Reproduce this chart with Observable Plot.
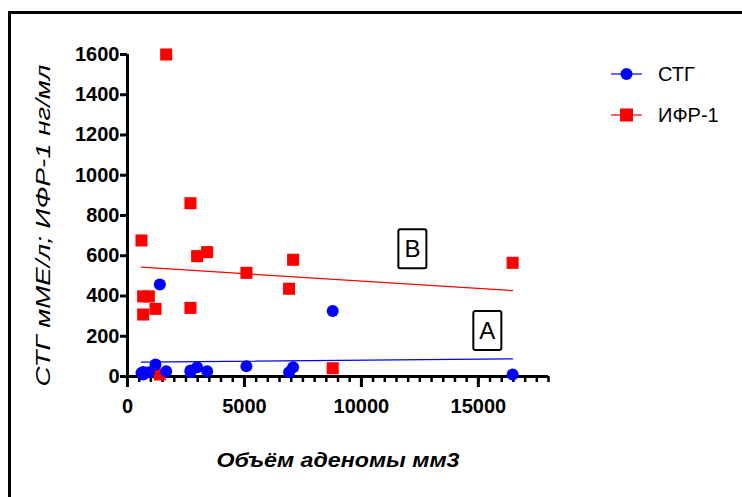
<!DOCTYPE html>
<html><head><meta charset="utf-8">
<script src="https://cdn.jsdelivr.net/npm/d3@7"></script>
<script src="https://cdn.jsdelivr.net/npm/@observablehq/plot@0.6"></script>
<style>
html,body{margin:0;padding:0;background:#fff;}
#wrap{position:relative;width:742px;height:497px;overflow:hidden;background:#fff;font-family:"Liberation Sans",Arial,sans-serif;}
#frame{position:absolute;left:8px;top:11px;width:900px;height:700px;border-left:3px solid #000;border-top:3px solid #000;box-sizing:border-box;}
#chart{position:absolute;left:0;top:0;}
#legend{position:absolute;left:605px;top:55px;}
</style>
</head><body>
<div id="wrap"><div id="frame"></div><div id="chart"></div><svg id="legend" width="137" height="80"></svg></div>
<script>
// Data
const volume = [598, 670, 670, 912, 1197, 1382, 1654, 2692, 2692, 2977, 3405, 5085, 6908, 7080, 8774, 16466];
const stg    = [17, 10, 22, 21, 60, 457, 26, 22, 30, 46, 26, 51, 21, 46, 325, 10];
const ifr    = [676, 398, 308, 398, 336, 10, 1600, 861, 341, 598, 618, 515, 436, 580, 41, 565];
// fitted lines (end points)
const fitX   = [598, 16466];
const fitStg = [71, 88];
const fitIfr = [543, 427];
// annotations
const annText = ["A", "B"];
const annX = [15385, 12180];
const annY = [224, 631];
// ticks
const xTicks = [0, 5000, 10000, 15000];
const xMinor = d3.range(0, 18001, 500);
const yTicks = [0, 200, 400, 600, 800, 1000, 1200, 1400, 1600];
const seriesNames = ["СТГ", "ИФР-1"];
const colors = ["#0000ff", "#ff0000"];
const xTitle = "Объём аденомы мм3";
const yTitle = "СТГ мМЕ/л; ИФР-1 нг/мл";

const pts = volume.map((v, i) => ({v, stg: stg[i], ifr: ifr[i]}));
const fitS = fitX.map((v, i) => ({v, y: fitStg[i]}));
const fitI = fitX.map((v, i) => ({v, y: fitIfr[i]}));
const ann = annText.map((t, i) => ({t, x: annX[i], y: annY[i]}));
const font = "Liberation Sans, Arial, sans-serif";

const chart = Plot.plot({
  width: 742, height: 497,
  marginLeft: 127, marginRight: 194, marginTop: 54, marginBottom: 121,
  x: {domain: [0, 18000]},
  y: {domain: [0, 1600]},
  style: {fontFamily: font, background: "transparent", overflow: "visible"},
  marks: [
    Plot.axisX({ticks: xMinor, tickSize: 6, strokeWidth: 2.5, tickFormat: () => "", label: null}),
    Plot.axisX({ticks: xTicks, tickSize: 11, tickPadding: 11, strokeWidth: 3, tickFormat: d => String(d), fontSize: 20, fontWeight: "bold", fill: "#000", label: null}),
    Plot.axisY({ticks: yTicks, tickSize: 7, tickPadding: 1, strokeWidth: 3, tickFormat: d => String(d), fontSize: 20, fontWeight: "bold", fill: "#000", label: null}),
    Plot.ruleY([0], {strokeWidth: 3, stroke: "#000"}),
    Plot.ruleX([0], {strokeWidth: 3, stroke: "#000"}),
    Plot.line(fitI, {x: "v", y: "y", stroke: colors[1], strokeWidth: 1.2}),
    Plot.line(fitS, {x: "v", y: "y", stroke: colors[0], strokeWidth: 1.2}),
    Plot.dot(pts, {x: "v", y: "ifr", symbol: "square", r: 6.8, fill: colors[1], stroke: null}),
    Plot.dot(pts, {x: "v", y: "stg", symbol: "circle", r: 6, fill: colors[0], stroke: null}),
    Plot.text(ann, {x: "x", y: "y", text: "t", fontSize: 24, fill: "#000"}),
    Plot.text([xTitle], {frameAnchor: "bottom", dy: 90, fontSize: 21, fontWeight: "bold", fontStyle: "italic", fill: "#000"}),
    Plot.text([yTitle], {frameAnchor: "left", textAnchor: "middle", dx: -84, dy: 10, rotate: -90, fontSize: 20, fontStyle: "italic", fill: "#000"})
  ]
});
document.getElementById("chart").appendChild(chart);

const allText = d3.select(chart).selectAll("text");
// stretch titles to the reference lengths
allText.filter(function() { return this.textContent === xTitle; })
  .attr("textLength", 243).attr("lengthAdjust", "spacingAndGlyphs");
allText.filter(function() { return this.textContent === yTitle; })
  .attr("textLength", 322).attr("lengthAdjust", "spacingAndGlyphs");

// boxes around annotation letters
allText.filter(function() { return annText.includes(this.textContent); }).each(function() {
  const b = this.getBBox();
  const px = 6, py = 6;
  const tr = this.getAttribute("transform");
  const r = document.createElementNS("http://www.w3.org/2000/svg", "rect");
  r.setAttribute("x", b.x - px); r.setAttribute("y", b.y - py);
  r.setAttribute("width", b.width + 2 * px); r.setAttribute("height", b.height + 2 * py);
  r.setAttribute("rx", 2); r.setAttribute("fill", "none");
  r.setAttribute("stroke", "#000"); r.setAttribute("stroke-width", 2);
  if (tr) r.setAttribute("transform", tr);
  this.parentNode.insertBefore(r, this);
});

// legend
const lg = d3.select("#legend").attr("font-family", font);
seriesNames.forEach((name, i) => {
  const cy = 19 + i * 41;
  const g = lg.append("g").attr("transform", `translate(0,${cy})`);
  g.append("line").attr("x1", 6).attr("x2", 37).attr("stroke", colors[i]).attr("stroke-width", 1.2);
  if (i === 0) g.append("circle").attr("cx", 21.5).attr("r", 6).attr("fill", colors[i]);
  else g.append("rect").attr("x", 15).attr("y", -6.5).attr("width", 13).attr("height", 13).attr("fill", colors[i]);
  g.append("text").attr("x", 53).attr("dy", "0.35em").attr("font-size", 20).attr("fill", "#000").text(name);
});
</script>
</body></html>
